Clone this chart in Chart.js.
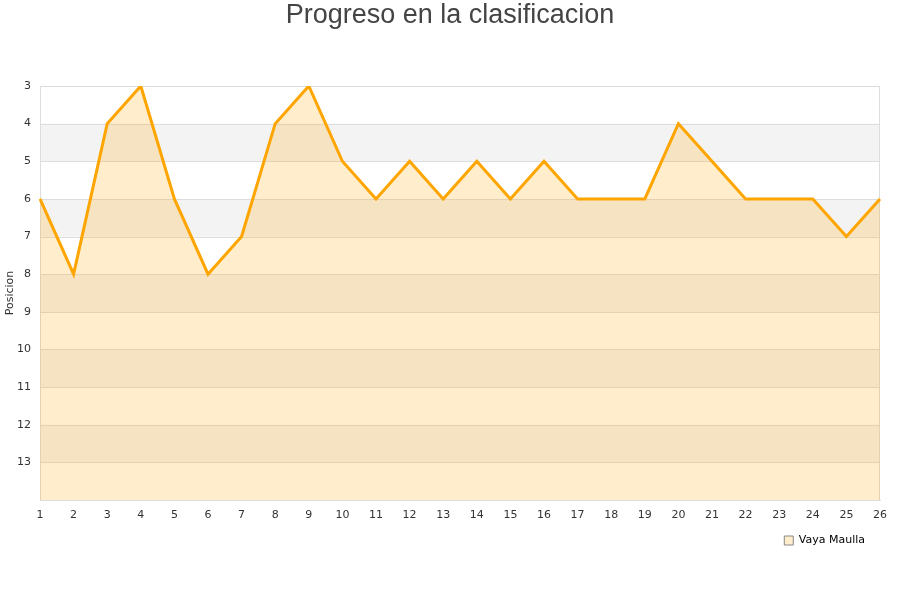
<!DOCTYPE html>
<html><head><meta charset="utf-8">
<script src="https://cdn.jsdelivr.net/npm/chart.js@4"></script>
<style>html,body{margin:0;padding:0;background:#fff}#wrap{width:900px;height:600px}</style>
</head><body><div id="wrap"><canvas id="c" width="900" height="600"></canvas></div>
<script>
const jornadas = ['1','2','3','4','5','6','7','8','9','10','11','12','13','14','15','16','17','18','19','20','21','22','23','24','25','26'];
const posiciones = [6,8,4,3,6,8,7,4,3,5,6,5,6,5,6,5,6,6,6,4,5,6,6,6,7,6];
const serieNombre = 'Vaya Maulla';
const tituloTexto = 'Progreso en la clasificacion';
const ejeY = 'Posicion';
const bandasGrises = [[4,5],[6,7],[8,9],[10,11],[12,13]];

const bandsPlugin = {
  id: 'bands',
  beforeDatasetsDraw(chart) {
    const {ctx, chartArea, scales} = chart;
    const y = scales.y;
    ctx.save();
    ctx.fillStyle = '#f3f3f3';
    bandasGrises.forEach(([a,b]) => {
      const y1 = y.getPixelForValue(a), y2 = y.getPixelForValue(b);
      ctx.fillRect(chartArea.left, Math.min(y1,y2), chartArea.right - chartArea.left, Math.abs(y2-y1));
    });
    ctx.strokeStyle = '#dddddd';
    ctx.lineWidth = 1;
    for (let v = 3; v <= 14; v++) {
      const py = Math.round(y.getPixelForValue(v)) + 0.5;
      ctx.beginPath(); ctx.moveTo(chartArea.left, py); ctx.lineTo(chartArea.right, py); ctx.stroke();
    }
    ctx.beginPath();
    ctx.moveTo(Math.round(chartArea.left)+0.5, chartArea.top);
    ctx.lineTo(Math.round(chartArea.left)+0.5, chartArea.bottom);
    ctx.moveTo(Math.round(chartArea.right)-0.5, chartArea.top);
    ctx.lineTo(Math.round(chartArea.right)-0.5, chartArea.bottom);
    ctx.stroke();
    ctx.restore();
  }
};

const titlePlugin = {
  id: 'centeredTitle',
  afterDraw(chart) {
    const ctx = chart.ctx;
    ctx.save();
    ctx.font = '27px "Liberation Sans", Arial, sans-serif';
    ctx.fillStyle = '#444444';
    ctx.textAlign = 'center';
    ctx.textBaseline = 'middle';
    ctx.fillText(tituloTexto, 450, 16);
    ctx.restore();
  }
};

new Chart(document.getElementById('c'), {
  type: 'line',
  data: {
    labels: jornadas,
    datasets: [{
      label: serieNombre,
      data: posiciones,
      borderColor: '#ffa500',
      backgroundColor: 'rgba(255,165,0,0.2)',
      borderWidth: 3,
      pointRadius: 0,
      pointHoverRadius: 0,
      tension: 0,
      fill: 'start'
    }]
  },
  options: {
    responsive: false,
    animation: false,
    layout: { padding: { left: 0, right: 20, top: 86, bottom: 44 } },
    plugins: {
      title: { display: false },
      legend: {
        position: 'bottom',
        align: 'end',
        labels: {
          boxWidth: 9, boxHeight: 9,
          color: '#000000',
          font: { family: 'DejaVu Sans', size: 11 },
          padding: 15,
          generateLabels(chart) {
            return chart.data.datasets.map((ds, i) => ({
              text: ds.label,
              fillStyle: 'rgba(255,165,0,0.2)',
              strokeStyle: '#888888',
              lineWidth: 1,
              hidden: false,
              datasetIndex: i
            }));
          }
        }
      },
      tooltip: { enabled: false }
    },
    scales: {
      x: {
        offset: false,
        grid: { display: false },
        border: { display: true, color: '#dddddd' },
        ticks: { color: '#333333', font: { family: 'DejaVu Sans', size: 11 }, maxRotation: 0, autoSkip: false, padding: 1 },
        afterFit(scale) { scale.height = 20; }
      },
      y: {
        reverse: true,
        min: 3, max: 14,
        grid: { display: false },
        border: { display: false },
        ticks: {
          stepSize: 1,
          color: '#333333',
          font: { family: 'DejaVu Sans', size: 11 },
          padding: 1,
          callback(v) { return v === 14 ? '' : v; }
        },
        title: { display: true, text: ejeY, color: '#333333', font: { family: 'DejaVu Sans', size: 11 }, padding: { top: 4, bottom: 0 } },
        afterFit(scale) { scale.width = 40; }
      }
    }
  },
  plugins: [bandsPlugin, titlePlugin]
});
</script>
</body></html>
